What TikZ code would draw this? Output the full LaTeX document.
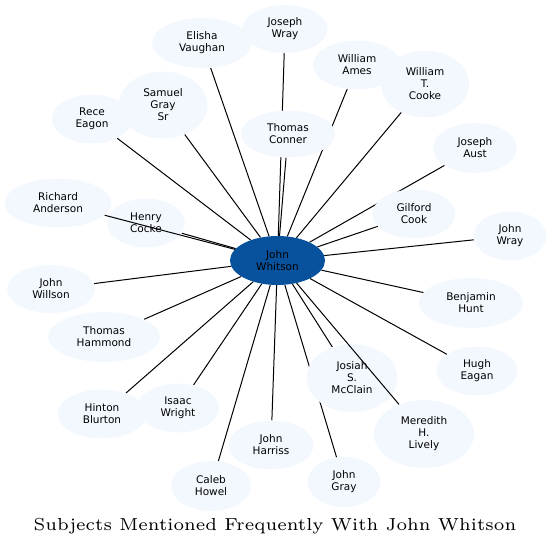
\documentclass[tikz,border=0pt]{standalone}
\usepackage{fontspec}
\newfontfamily\labelfont{DejaVu Sans}
\usetikzlibrary{shapes.geometric,backgrounds}
\definecolor{HubBlue}{RGB}{8,81,156}
\definecolor{LeafBlue}{RGB}{243,248,254}
\tikzset{
  leaf/.style={ellipse,fill=LeafBlue,inner sep=0pt,align=center,
               font=\labelfont\fontsize{10.5}{12}\selectfont},
  hub/.style={leaf,fill=HubBlue},
  link/.style={line width=1pt,black},
}

\begin{document}
\begin{tikzpicture}[x=1pt,y=-1pt]
  \useasboundingbox (0,0) rectangle (552,547);
  % hub
  \node[hub,minimum width=95pt,minimum height=49pt] (jw) at (277.5,260.5) {John\\Whitson};
  % people around the hub
  \foreach \nm/\px/\py/\w/\h/\txt in {
      ev/202/43/100/50/{Elisha\\Vaughan},
      jwr/285/29/85/48/{Joseph\\Wray},
      wa/357/65/88/49/{William\\Ames},
      wtc/425/84/88/67/{William\\T.\\Cooke},
      tc/288/134/94/47/{Thomas\\Conner},
      re/92/119/80/49/{Rece\\Eagon},
      sg/163/105/89/67/{Samuel\\Gray\\Sr},
      ja/475/148/84/50/{Joseph\\Aust},
      gc/414/214/83/49/{Gilford\\Cook},
      ra/58/203/107/49/{Richard\\Anderson},
      hc/146/223/78/49/{Henry\\Cocke},
      jwy/510/236/73/49/{John\\Wray},
      jwi/51/289/88/48/{John\\Willson},
      bh/471/303/104/50/{Benjamin\\Hunt},
      th/104/337/112/50/{Thomas\\Hammond},
      hue/477/371/81/49/{Hugh\\Eagan},
      jsm/352/378/91/68/{Josiah\\S.\\McClain},
      hb/102/414/89/49/{Hinton\\Blurton},
      iw/178/408/82/49/{Isaac\\Wright},
      mhl/424/434/100/68/{Meredith\\H.\\Lively},
      jh/271/445/85/49/{John\\Harriss},
      jg/344/482/73/50/{John\\Gray},
      cb/211/486/80/50/{Caleb\\Howel}}
    \node[leaf,minimum width=\w pt,minimum height=\h pt] (\nm) at (\px,\py) {\txt};
  % links behind the ellipses
  \begin{scope}[on background layer]
    \foreach \nm in {ev,jwr,wa,wtc,tc,re,sg,ja,gc,hc,jwy,jwi,bh,th,hue,jsm,hb,iw,jh,jg,cb}
      \draw[link] (jw) -- (\nm);
  \end{scope}
  % these two cross another ellipse
  \draw[link] (jw) -- (ra);
  \draw[link] (jw) -- (mhl);
  % title
  \node[anchor=base,inner sep=0pt] (title) at (275,530)
    {\scalebox{2.9}{\fontsize{6}{7}\selectfont Subjects Mentioned Frequently With John Whitson}};
\end{tikzpicture}
\end{document}
